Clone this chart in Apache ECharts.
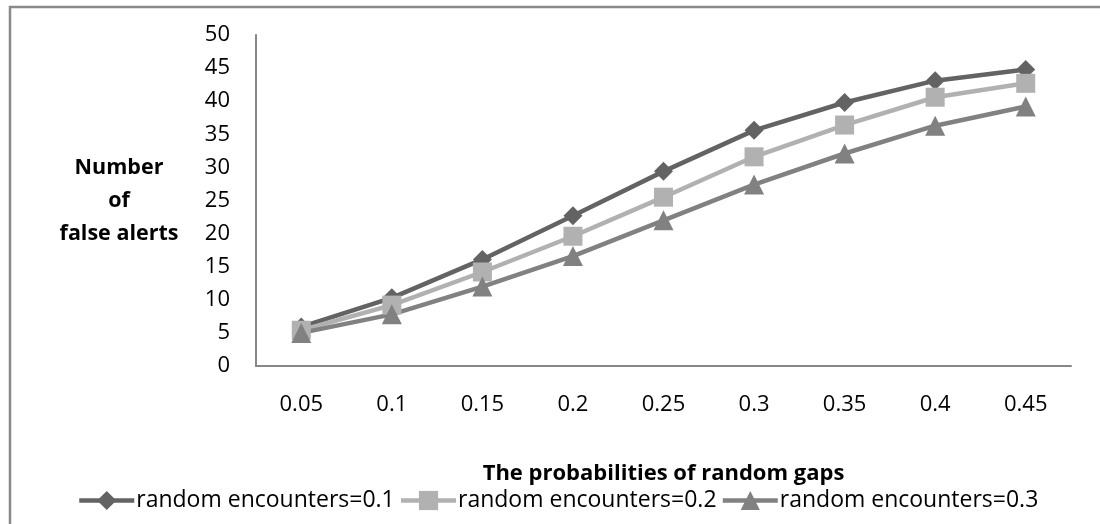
<!DOCTYPE html>
<html>
<head>
<meta charset="utf-8">
<script src="https://cdn.jsdelivr.net/npm/echarts@6/dist/echarts.min.js"></script>
<style>
  html, body { margin: 0; padding: 0; background: #fff; }
  #chart { width: 1100px; height: 524px; }
</style>
</head>
<body>
<div id="chart"></div>
<script>
// Probability of random gaps (x categories)
const gapProbabilities = ['0.05', '0.1', '0.15', '0.2', '0.25', '0.3', '0.35', '0.4', '0.45'];

// Number of false alerts for each random-encounter rate
const encounters01 = [5.9, 10.3, 16.1, 22.7, 29.4, 35.6, 39.8, 43.1, 44.8];
const encounters02 = [5.4, 9.2, 14.2, 19.6, 25.5, 31.6, 36.4, 40.6, 42.7];
const encounters03 = [5.0, 7.8, 12.0, 16.6, 22.0, 27.4, 32.1, 36.3, 39.2];

const seriesNames = ['random encounters=0.1', 'random encounters=0.2', 'random encounters=0.3'];

const FONT = '"Open Sans", sans-serif';

const chart = echarts.init(document.getElementById('chart'), null, { renderer: 'canvas' });

function lineSeries(name, data, color, symbol, size) {
  return {
    name: name,
    type: 'line',
    data: data,
    symbol: symbol,
    symbolSize: size,
    showAllSymbol: true,
    lineStyle: { color: color, width: 4.5 },
    itemStyle: { color: color, borderWidth: 0 },
    emphasis: { disabled: true },
    animation: false
  };
}

chart.setOption({
  backgroundColor: '#ffffff',
  animation: false,
  textStyle: { fontFamily: FONT },
  graphic: [{
    type: 'rect',
    shape: { x: 10, y: 7, width: 1100, height: 540 },
    style: { fill: 'none', stroke: '#8a8a8a', lineWidth: 2.5 },
    silent: true
  }],
  grid: { left: 256, right: 29, top: 35, bottom: 158, containLabel: false },
  xAxis: {
    type: 'category',
    data: gapProbabilities,
    boundaryGap: true,
    name: 'The probabilities of random gaps',
    nameLocation: 'middle',
    nameGap: 97,
    nameTextStyle: { fontFamily: FONT, fontSize: 22, fontWeight: 'bold', color: '#000' },
    axisLine: { show: true, lineStyle: { color: '#878787', width: 2 } },
    axisTick: { show: false },
    axisLabel: { fontFamily: FONT, fontSize: 22, color: '#000', margin: 28 },
    splitLine: { show: false }
  },
  yAxis: {
    type: 'value',
    min: 0,
    max: 50,
    interval: 5,
    name: 'Number\nof\nfalse alerts',
    nameLocation: 'middle',
    nameRotate: 0,
    nameGap: 137,
    nameTextStyle: { fontFamily: FONT, fontSize: 21.5, fontWeight: 'bold', color: '#000', align: 'center', lineHeight: 33 },
    axisLine: { show: true, lineStyle: { color: '#878787', width: 2 } },
    axisTick: { show: false },
    axisLabel: { fontFamily: FONT, fontSize: 22, color: '#000', margin: 26 },
    splitLine: { show: false }
  },
  legend: {
    data: seriesNames,
    left: 72,
    top: 484,
    itemWidth: 55,
    itemHeight: 24,
    itemGap: 4,
    lineStyle: { width: 4.5 },
    textStyle: { fontFamily: FONT, fontSize: 23, color: '#000', padding: [0, 0, 0, -3] },
    selectedMode: false
  },
  series: [
    lineSeries(seriesNames[0], encounters01, '#636363', 'diamond', 19),
    lineSeries(seriesNames[1], encounters02, '#b1b1b1', 'rect', 19),
    lineSeries(seriesNames[2], encounters03, '#818181', 'triangle', 20)
  ]
});
</script>
</body>
</html>
